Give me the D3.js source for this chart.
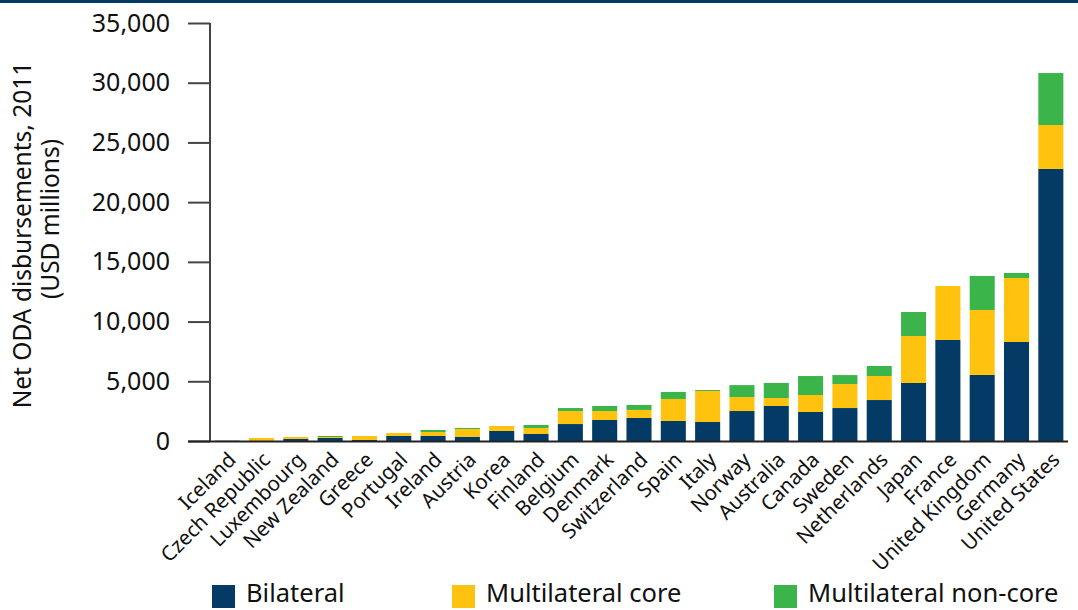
<!DOCTYPE html>
<html>
<head>
<meta charset="utf-8">
<script src="https://cdn.jsdelivr.net/npm/d3@7"></script>
<style>
  html, body { margin: 0; padding: 0; background: #fff; }
  svg { display: block; font-family: "Noto Sans", "Open Sans", sans-serif; }
</style>
</head>
<body>
<svg id="chart" width="1078" height="610"></svg>
<script>
const countries = ["Iceland", "Czech Republic", "Luxembourg", "New Zealand", "Greece", "Portugal", "Ireland", "Austria", "Korea", "Finland", "Belgium", "Denmark", "Switzerland", "Spain", "Italy", "Norway", "Australia", "Canada", "Sweden", "Netherlands", "Japan", "France", "United Kingdom", "Germany", "United States"];
const bilateral = [25, 20, 180, 250, 90, 420, 420, 340, 840, 590, 1420, 1760, 1930, 1680, 1590, 2510, 2930, 2430, 2760, 3430, 4860, 8460, 5530, 8290, 22780];
const multilateralCore = [0, 230, 155, 85, 330, 250, 335, 665, 420, 500, 1090, 750, 670, 1840, 2600, 1170, 670, 1420, 2010, 2010, 3930, 4520, 5440, 5360, 3680];
const multilateralNonCore = [0, 0, 0, 85, 0, 0, 165, 85, 0, 250, 250, 420, 420, 590, 80, 1000, 1260, 1590, 750, 840, 2010, 0, 2850, 420, 4350];
const seriesNames = ["Bilateral", "Multilateral core", "Multilateral non-core"];
const yTicks = [0, 5000, 10000, 15000, 20000, 25000, 30000, 35000];
const colors = ["#033a66", "#ffc20e", "#3bb54a"];

const svg = d3.select("#chart");

// top band
svg.append("rect").attr("x", 0).attr("y", 0).attr("width", 1078).attr("height", 3).attr("fill", "#053a68");

const x = d3.scaleBand().domain(countries).range([210, 1068]).paddingInner(0.27).paddingOuter(0.135);
const y = d3.scaleLinear().domain([0, 35000]).range([441, 23]);

const rows = countries.map((c, i) => ({ country: c, b: bilateral[i], mc: multilateralCore[i], mn: multilateralNonCore[i] }));
const stack = d3.stack().keys(["b", "mc", "mn"]);
const layers = stack(rows);

svg.append("g").selectAll("g").data(layers).join("g")
  .attr("fill", (d, i) => colors[i])
  .selectAll("rect").data(d => d).join("rect")
  .attr("x", d => x(d.data.country))
  .attr("width", x.bandwidth())
  .attr("y", d => y(d[1]))
  .attr("height", d => y(d[0]) - y(d[1]));

// y axis
const yAxis = d3.axisLeft(y).tickValues(yTicks).tickSize(22).tickPadding(18)
  .tickFormat(d3.format(","));
const yg = svg.append("g").attr("transform", "translate(210,0)").call(yAxis);
yg.select(".domain").attr("stroke", "#444").attr("stroke-width", 2).attr("d", "M0,23V441");
yg.selectAll(".tick line").attr("stroke", "#444").attr("stroke-width", 2);
yg.selectAll(".tick text").attr("font-size", 25).attr("fill", "#111")
  .attr("font-family", "'Noto Sans', sans-serif");

// x baseline
svg.append("line").attr("x1", 188).attr("x2", 1068).attr("y1", 441.5).attr("y2", 441.5)
  .attr("stroke", "#222").attr("stroke-width", 2);

// x labels
svg.append("g").selectAll("text").data(countries).join("text")
  .attr("transform", d => `translate(${x(d) + x.bandwidth() / 2 + 10},${461}) rotate(-45)`)
  .attr("text-anchor", "end")
  .attr("font-size", 20.5)
  .attr("fill", "#111")
  .text(d => d);

// y title
const title = svg.append("g");
title.append("text").attr("transform", "translate(31,235) rotate(-90)")
  .attr("text-anchor", "middle").attr("font-size", 24.5).attr("fill", "#111")
  .text("Net ODA disbursements, 2011");
title.append("text").attr("transform", "translate(59,219) rotate(-90)")
  .attr("text-anchor", "middle").attr("font-size", 24.5).attr("fill", "#111")
  .text("(USD millions)");

// legend
const legendX = [212, 452, 774];
const lg = svg.append("g").selectAll("g").data(seriesNames).join("g")
  .attr("transform", (d, i) => `translate(${legendX[i]},585)`);
lg.append("rect").attr("width", 23).attr("height", 23).attr("fill", (d, i) => colors[i]);
lg.append("text").attr("x", 34).attr("y", 17).attr("font-size", 25.5).attr("fill", "#111").text(d => d);
</script>
</body>
</html>
